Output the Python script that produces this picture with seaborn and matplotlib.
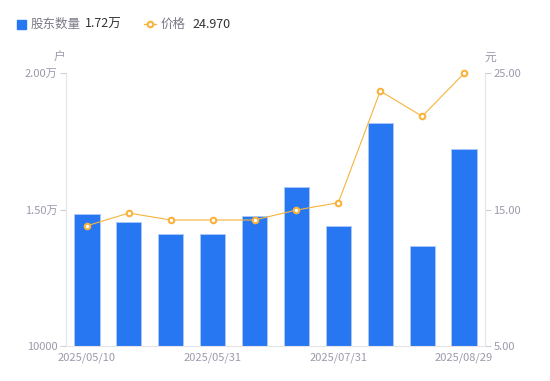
import numpy as np
import pandas as pd
import matplotlib
matplotlib.use('Agg')
import matplotlib.pyplot as plt
import seaborn as sns
from matplotlib.lines import Line2D

sns.set_style('white')
plt.rcParams['font.family'] = ['Noto Sans CJK SC', 'DejaVu Sans']
plt.rcParams['axes.unicode_minus'] = False

# 数据
dates = ['2025/05/10', '2025/05/20', '2025/05/23', '2025/05/31', '2025/06/20',
         '2025/06/30', '2025/07/31', '2025/08/10', '2025/08/20', '2025/08/29']
holders = [14850, 14540, 14120, 14120, 14760, 15820, 14390, 18180, 13670, 17200]
prices = [13.81, 14.74, 14.23, 14.23, 14.23, 14.96, 15.50, 23.68, 21.83, 24.97]
shown_dates = ['2025/05/10', '2025/05/31', '2025/07/31', '2025/08/29']

bar_color = '#2777F2'
line_color = '#F8B33C'
grey = '#9A9AAB'

df = pd.DataFrame({'date': dates, 'holders': holders, 'price': prices})

fig = plt.figure(figsize=(5.5, 3.81), dpi=100)
ax = fig.add_axes([66 / 550, 1 - 346 / 381, 419 / 550, 273 / 381])

# 柱状图：股东数量
sns.barplot(data=df, x='date', y='holders', ax=ax, color=bar_color,
            width=0.6, edgecolor='#A9C8F8', linewidth=0.7, saturation=1)
ax.set_ylim(10000, 20000)
ax.set_xlim(-0.5, len(dates) - 0.5)
ax.set_yticks([10000, 15000, 20000])
ax.set_yticklabels(['10000', '1.50万', '2.00万'])
ax.set_xticks([dates.index(d) for d in shown_dates])
ax.set_xticklabels(shown_dates)
ax.set_xlabel('')
ax.set_ylabel('')

# 折线：价格
ax2 = ax.twinx()
sns.lineplot(x=np.arange(len(prices)), y=df['price'], ax=ax2, color=line_color,
             linewidth=0.8, marker='o', markersize=4, markerfacecolor='white',
             markeredgecolor=line_color, markeredgewidth=1.5, clip_on=False)
ax2.set_ylim(5, 25)
ax2.set_yticks([5, 15, 25])
ax2.set_yticklabels(['5.00', '15.00', '25.00'])
ax2.set_ylabel('')

for a in (ax, ax2):
    for s in a.spines.values():
        s.set_visible(False)
    a.tick_params(colors=grey, labelsize=8, length=4, width=0.8)
    a.tick_params(axis='y', labelcolor=grey)

ax.spines['left'].set_visible(True)
ax.spines['left'].set_color('#E3E3E8')
ax.spines['bottom'].set_visible(True)
ax.spines['bottom'].set_color('#E3E3E8')
ax2.spines['right'].set_visible(True)
ax2.spines['right'].set_color('#E3E3E8')
ax.tick_params(axis='x', length=0, pad=5, labelcolor=grey)
ax.tick_params(axis='y', color='#D0D0D8', pad=2)
ax2.tick_params(axis='y', color='#D0D0D8', pad=2)

# 单位
fig.text(60 / 550, 1 - 57 / 381, '户', color=grey, fontsize=8.5, ha='center', va='center')
fig.text(490 / 550, 1 - 57 / 381, '元', color=grey, fontsize=8.5, ha='center', va='center')

# 图例
fig.patches.append(plt.Rectangle((17 / 550, 1 - 29 / 381), 9 / 550, 9 / 381,
                                 transform=fig.transFigure, color=bar_color))
fig.text(31 / 550, 1 - 24 / 381, '股东数量', color='#7A7A88', fontsize=9, va='center')
fig.text(85 / 550, 1 - 24 / 381, '1.72万', color='#333333', fontsize=9, va='center')
fig.lines.append(Line2D([144 / 550, 156 / 550], [1 - 24 / 381, 1 - 24 / 381],
                        transform=fig.transFigure, color=line_color, linewidth=1.0))
fig.lines.append(Line2D([150 / 550], [1 - 24 / 381], transform=fig.transFigure,
                        color=line_color, marker='o', markersize=4,
                        markerfacecolor='white', markeredgewidth=1.5, linewidth=0))
fig.text(161 / 550, 1 - 24 / 381, '价格', color='#7A7A88', fontsize=9, va='center')
fig.text(192 / 550, 1 - 24 / 381, '24.970', color='#333333', fontsize=9, va='center')

fig.savefig('out.png', dpi=100)
